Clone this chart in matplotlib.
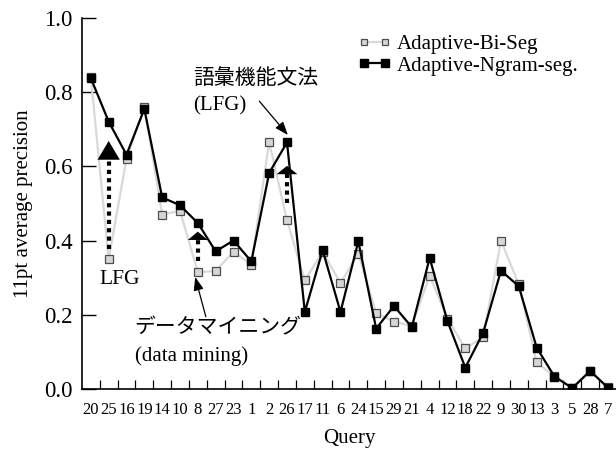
import matplotlib
matplotlib.use("Agg")
import matplotlib.pyplot as plt
import numpy as np

queries = ["20", "25", "16", "19", "14", "10", "8", "27", "23", "1", "2", "26", "17", "11", "6",
           "24", "15", "29", "21", "4", "12", "18", "22", "9", "30", "13", "3", "5", "28", "7"]
bi_seg = [0.84, 0.35, 0.62, 0.76, 0.47, 0.48, 0.315, 0.318, 0.37, 0.335, 0.665, 0.455, 0.293, 0.37, 0.285,
          0.365, 0.205, 0.182, 0.17, 0.305, 0.19, 0.11, 0.14, 0.40, 0.282, 0.072, 0.035, 0.004, 0.05, 0.005]
ngram_seg = [0.837, 0.72, 0.631, 0.754, 0.516, 0.495, 0.447, 0.371, 0.40, 0.344, 0.582, 0.664, 0.208, 0.374, 0.208,
             0.398, 0.163, 0.224, 0.167, 0.353, 0.183, 0.058, 0.152, 0.319, 0.277, 0.112, 0.034, 0.003, 0.049, 0.004]
yticks = [0.0, 0.2, 0.4, 0.6, 0.8, 1.0]

SERIF = ["Liberation Serif", "Noto Sans CJK JP"]
plt.rcParams["font.family"] = SERIF

fig = plt.figure(figsize=(6.16, 4.51), dpi=100)
ax = fig.add_axes([0.133, 0.137, 0.867, 0.824])
x = np.arange(len(queries))

ax.plot(x, bi_seg, color="#d9d9d9", lw=1.6, marker="s", ms=5.8, mfc="#d6d6d6", mec="#4d4d4d",
        mew=0.9, label="Adaptive-Bi-Seg", zorder=2)
ax.plot(x, ngram_seg, color="black", lw=1.6, marker="s", ms=6.2, mfc="black", mec="black",
        label="Adaptive-Ngram-seg.", zorder=3)

ax.set_xlim(-0.5, 29.45)
ax.set_ylim(0, 1.0)
ax.set_xticks(x)
ax.set_xticklabels(queries, fontsize=12)
ax.set_xticks(x[:-1] + 0.5, minor=True)
ax.tick_params(axis="x", which="major", length=0, pad=9)
ax.tick_params(axis="x", which="minor", direction="in", length=6.5, width=0.9)
ax.set_yticks(yticks)
ax.set_yticklabels([f"{v:.1f}" for v in yticks], fontsize=16.5)
ax.tick_params(axis="y", direction="in", length=10, width=1.0, pad=6.5)
for s in ["top", "right"]:
    ax.spines[s].set_visible(False)
for s in ["left", "bottom"]:
    ax.spines[s].set_linewidth(1.2)

ax.set_xlabel("Query", fontsize=15, labelpad=8)
ax.set_ylabel("11pt average precision", fontsize=15, labelpad=8)

fig.legend(loc="upper left", bbox_to_anchor=(358 / 616, 0.924), frameon=False, fontsize=15,
           numpoints=2, handlelength=1.6, handletextpad=0.25, labelspacing=0.1,
           borderaxespad=0, borderpad=0, markerscale=0.85)

# dotted arrows: dotted stem + solid head
arrows = [
    # (x index, base, tip, head length pt, head half-width pt)
    (1, 0.376, 0.668, 13.5, 8.0),
    (6, 0.344, 0.424, 6.0, 7.2),
    (11, 0.500, 0.601, 6.0, 7.5),
]
to_data = 1.0 / (0.824 * 4.51 * 72)  # data units per point in y
for xi, base, tip, hl, hw in arrows:
    stem_top = tip - hl * to_data * 0.8
    ax.plot([xi, xi], [base, stem_top], color="black", lw=3.0, ls=(0, (1, 1)),
            solid_capstyle="butt", dash_capstyle="butt", zorder=4)
    ax.annotate("", xy=(xi, tip), xytext=(xi, stem_top - 0.01),
                arrowprops=dict(arrowstyle=f"-|>,head_width={hw / 10},head_length={hl / 10}",
                                mutation_scale=10, lw=0.01, color="black",
                                shrinkA=0, shrinkB=0),
                zorder=5)

thin = dict(arrowstyle="-|>,head_width=0.3,head_length=0.8", lw=0.9, color="black",
            shrinkA=0, shrinkB=0, mutation_scale=10)
ax.annotate("", xy=(11.05, 0.684), xytext=(9.45, 0.775), arrowprops=thin)
ax.annotate("", xy=(5.85, 0.302), xytext=(6.45, 0.195), arrowprops=thin)

ax.text(1.6, 0.295, "LFG", fontsize=15.5, ha="center", va="center")
ax.text(5.75, 0.835, "語彙機能文法", fontsize=15, ha="left", va="center", family=SERIF)
ax.text(5.75, 0.763, "(LFG)", fontsize=15, ha="left", va="center")
ax.text(2.45, 0.163, "データマイニング", fontsize=15, ha="left", va="center", family=SERIF)
ax.text(2.45, 0.088, "(data mining)", fontsize=15, ha="left", va="center")

fig.savefig("out.png", dpi=100)
